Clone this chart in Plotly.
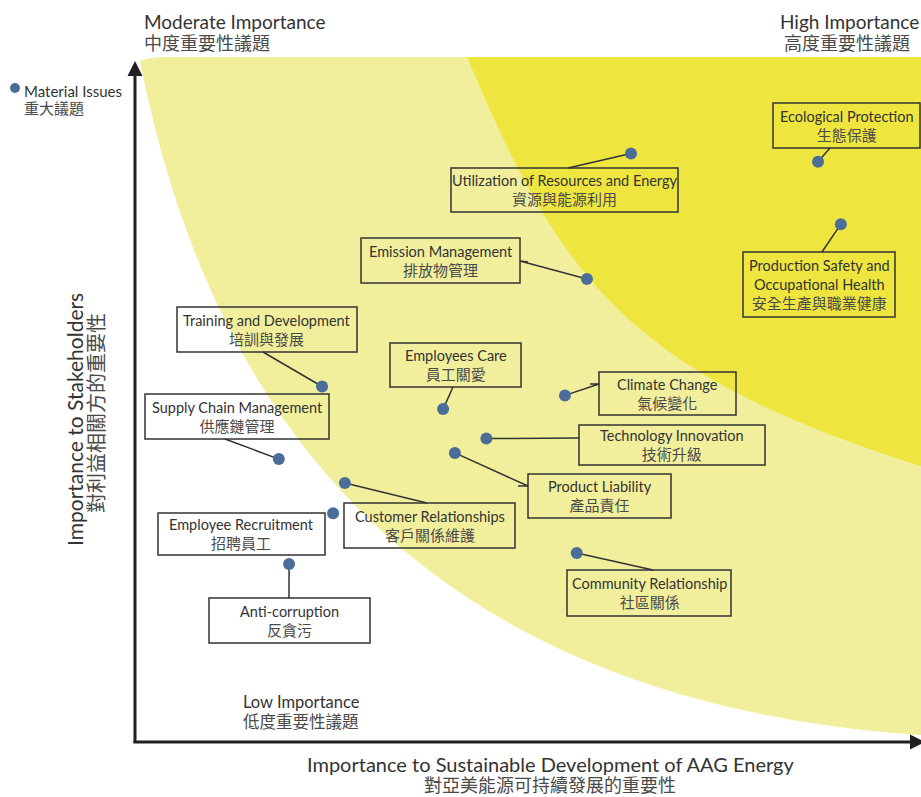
import plotly.graph_objects as go

# ---------------- data ----------------
issues_en = [
    "Utilization of Resources and Energy", "Ecological Protection",
    "Production Safety and<br>Occupational Health", "Emission Management",
    "Training and Development", "Employees Care", "Climate Change",
    "Technology Innovation", "Product Liability", "Supply Chain Management",
    "Customer Relationships", "Employee Recruitment", "Anti-corruption",
    "Community Relationship",
]
issues_zh = [
    "資源與能源利用", "生態保護", "安全生產與職業健康", "排放物管理",
    "培訓與發展", "員工關愛", "氣候變化", "技術升級", "產品責任",
    "供應鏈管理", "客戶關係維護", "招聘員工", "反貪污", "社區關係",
]
# importance to sustainable development of AAG Energy (x) / to stakeholders (y)
sd_importance = [6.31, 8.69, 8.98, 5.75, 2.38, 3.92, 5.47, 4.47, 4.07, 1.83, 2.67, 2.52, 1.96, 5.62]
stakeholder_importance = [8.59, 8.47, 7.56, 6.76, 5.19, 4.86, 5.06, 4.43, 4.22, 4.13, 3.78, 3.34, 2.60, 2.76]

# ---------------- layout geometry ----------------
W_FIG, H_FIG = 921, 797
L, T, R, B = 135, 57, 0, 55
PW, PH = W_FIG - L - R, H_FIG - T - B
XMAX, YMAX = 10, 10


def px2x(px):
    return (px - L) / PW * XMAX


def py2y(py):
    return (T + PH - py) / PH * YMAX


def px2p(px):
    return (px - L) / PW


def py2p(py):
    return (T + PH - py) / PH


# label boxes (pixel rectangles) and connector anchor points (pixels)
label_boxes = [
    (451, 168, 678, 212), (773, 103, 920, 148), (743, 252, 895, 317),
    (361, 238, 520, 283), (177, 307, 357, 352), (390, 343, 521, 387),
    (599, 372, 736, 415), (579, 425, 765, 465), (528, 474, 671, 518),
    (145, 394, 329, 439), (344, 503, 515, 548), (158, 513, 325, 555),
    (209, 598, 370, 643), (567, 570, 731, 616),
]
label_anchors = [
    [(568, 168)], [(830, 148)], [(822, 252)], [(520, 261), (528, 262)],
    [(263, 352)], [(453, 387)], [(599, 384), (590, 384)], [(579, 438)],
    [(528, 486), (518, 486)], [(225, 439)], [(427, 503)], [],
    [(289, 598)], [(653, 570)],
]

PALE = "#F2EF9C"
BRIGHT = "#EEE63E"
DOT = "#4A6D9A"
INK = "#333333"
ZH_INK = "#4a4a4a"
FONT = "Lato, 'Noto Sans CJK TC', sans-serif"

fig = go.Figure()

# connectors
for i in range(len(issues_en)):
    if not label_anchors[i]:
        continue
    xs = [sd_importance[i]] + [px2x(a[0]) for a in label_anchors[i]]
    ys = [stakeholder_importance[i]] + [py2y(a[1]) for a in label_anchors[i]]
    fig.add_trace(go.Scatter(x=xs, y=ys, mode="lines",
                             line=dict(color=INK, width=1.5),
                             hoverinfo="skip", showlegend=False))

# points
fig.add_trace(go.Scatter(
    x=sd_importance, y=stakeholder_importance, mode="markers",
    marker=dict(color=DOT, size=12, line=dict(width=0)),
    text=[e.replace("<br>", " ") for e in issues_en], hoverinfo="text",
    showlegend=False, cliponaxis=False))


def P(px, py):
    return f"{px2x(px):.4f},{py2y(py):.4f}"


shapes = []
# pale (moderate) region
pale_path = ("M " + P(140, 61) + " C " + P(206, 400) + " " + P(405, 700) + " " + P(921, 735)
             + " L " + P(921, 57) + " L " + P(162, 57) + " Q " + P(145, 58) + " " + P(140, 61) + " Z")
shapes.append(dict(type="path", xref="x", yref="y", path=pale_path,
                   fillcolor=PALE, line=dict(width=0), layer="below"))
# bright (high) region
bright_path = ("M " + P(467, 57) + " C " + P(559, 274) + " " + P(622, 372) + " " + P(921, 466)
               + " L " + P(921, 57) + " Z")
shapes.append(dict(type="path", xref="x", yref="y", path=bright_path,
                   fillcolor=BRIGHT, line=dict(width=0), layer="below"))

# label boxes
annotations = []
for i, (x0, y0, x1, y1) in enumerate(label_boxes):
    shapes.append(dict(type="rect", xref="x", yref="y",
                       x0=px2x(x0), x1=px2x(x1), y0=py2y(y1), y1=py2y(y0),
                       line=dict(color=INK, width=1.5), fillcolor="rgba(0,0,0,0)",
                       layer="above"))
    annotations.append(dict(
        xref="x", yref="y", x=px2x((x0 + x1) / 2), y=py2y((y0 + y1) / 2),
        text=issues_en[i] + "<br>" + f"<span style='font-size:15px;fill:{ZH_INK}'>{issues_zh[i]}</span>",
        showarrow=False, xanchor="center", yanchor="middle", align="center",
        font=dict(family=FONT, size=14.5, color=INK)))

# axis arrows
AX = "#231F20"
shapes.append(dict(type="line", xref="paper", yref="paper",
                   x0=px2p(135), x1=px2p(135), y0=py2p(743), y1=py2p(72),
                   line=dict(color=AX, width=3), layer="above"))
shapes.append(dict(type="path", xref="paper", yref="paper",
                   path=f"M {px2p(127.5)},{py2p(76)} L {px2p(142.5)},{py2p(76)} L {px2p(135)},{py2p(61)} Z",
                   fillcolor=AX, line=dict(width=0), layer="above"))
shapes.append(dict(type="line", xref="paper", yref="paper",
                   x0=px2p(133.5), x1=px2p(912), y0=py2p(742), y1=py2p(742),
                   line=dict(color=AX, width=3), layer="above"))
shapes.append(dict(type="path", xref="paper", yref="paper",
                   path=f"M {px2p(910)},{py2p(734.5)} L {px2p(910)},{py2p(749.5)} L {px2p(925)},{py2p(742)} Z",
                   fillcolor=AX, line=dict(width=0), layer="above"))

# legend marker
shapes.append(dict(type="circle", xref="paper", yref="paper",
                   x0=px2p(10), x1=px2p(20), y0=py2p(93), y1=py2p(83),
                   fillcolor=DOT, line=dict(width=0), layer="above"))


def txt(text, px, py, size, xanchor="left", yanchor="middle", align="left", angle=0, color=INK):
    annotations.append(dict(xref="paper", yref="paper", x=px2p(px), y=py2p(py),
                            text=text, showarrow=False, xanchor=xanchor, yanchor=yanchor,
                            align=align, textangle=angle, borderpad=0,
                            font=dict(family=FONT, size=size, color=color)))


txt("Material Issues", 23, 91, 15)
txt("重大議題", 23, 108, 15, color=ZH_INK)
txt("Moderate Importance", 143, 22, 19)
txt("中度重要性議題", 143, 43, 18, color=ZH_INK)
txt("High Importance", 920, 22, 19, xanchor="right")
txt("高度重要性議題", 911, 43, 18, xanchor="right", color=ZH_INK)
txt("Low Importance", 242, 702, 16.5)
txt("低度重要性議題", 242, 722, 16.5, color=ZH_INK)
txt("Importance to Sustainable Development of AAG Energy", 550, 764, 20, xanchor="center")
txt("對亞美能源可持續發展的重要性", 550, 785, 18, xanchor="center", color=ZH_INK)
txt("Importance to Stakeholders", 74, 420, 21, xanchor="center", angle=-90)
txt("對利益相關方的重要性", 96, 413, 20, xanchor="center", angle=-90, color=ZH_INK)

fig.update_layout(
    width=W_FIG, height=H_FIG, autosize=False,
    margin=dict(l=L, r=R, t=T, b=B, pad=0),
    paper_bgcolor="white", plot_bgcolor="white",
    xaxis=dict(range=[0, XMAX], visible=False, fixedrange=True),
    yaxis=dict(range=[0, YMAX], visible=False, fixedrange=True),
    shapes=shapes, annotations=annotations, showlegend=False,
    font=dict(family=FONT, color=INK),
)

fig.write_html("out.html")
